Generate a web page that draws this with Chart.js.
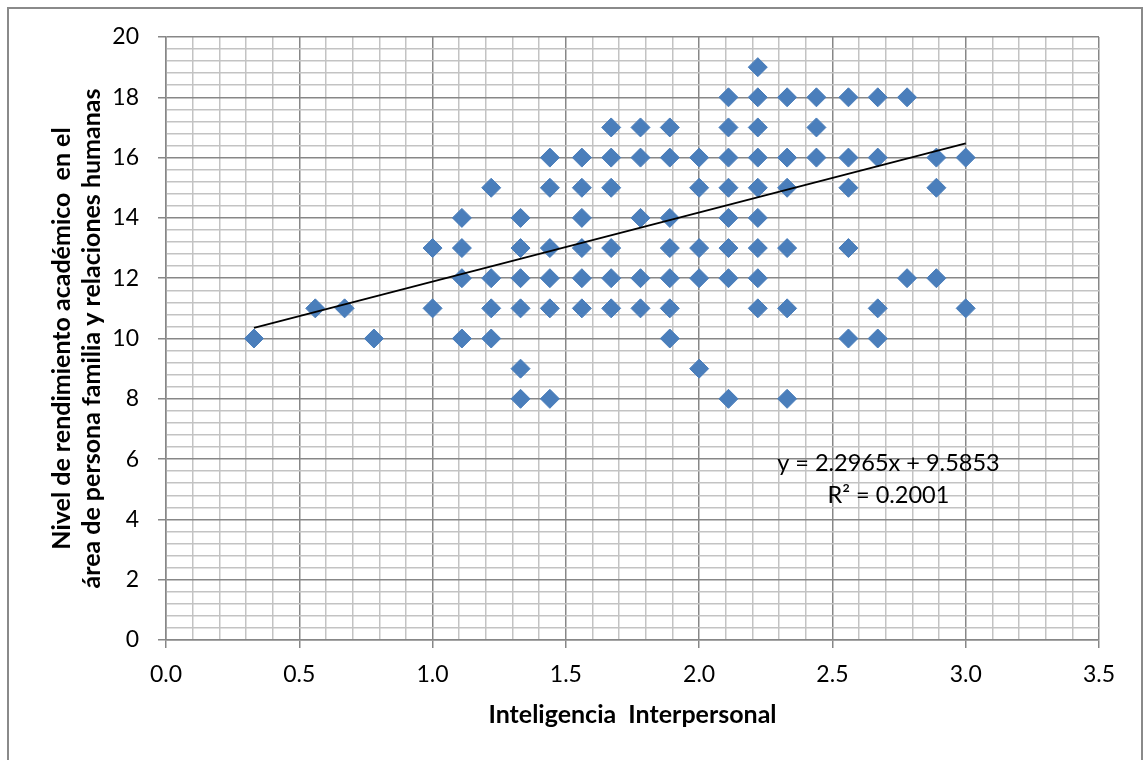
<!DOCTYPE html>
<html>
<head>
<meta charset="utf-8">
<script src="https://cdn.jsdelivr.net/npm/chart.js@4.4.1/dist/chart.umd.min.js"></script>
<style>
  html, body { margin: 0; padding: 0; background: #ffffff; }
  #wrap { width: 1146px; height: 760px; position: relative; }
</style>
</head>
<body>
<div id="wrap"><canvas id="c" width="1146" height="760"></canvas></div>
<script>
// ---- Data ----
const xLevels = [0.33, 0.56, 0.67, 0.78, 1.00, 1.11, 1.22, 1.33, 1.44, 1.56, 1.67, 1.78,
                 1.89, 2.00, 2.11, 2.22, 2.33, 2.44, 2.56, 2.67, 2.78, 2.89, 3.00];
const yByLevel = [
  [10], [11], [11], [10],
  [13, 11],
  [14, 13, 12, 10],
  [15, 12, 11, 10],
  [14, 13, 12, 11, 9, 8],
  [16, 15, 13, 12, 11, 8],
  [16, 15, 14, 13, 12, 11],
  [17, 16, 15, 13, 12, 11],
  [17, 16, 14, 12, 11],
  [17, 16, 14, 13, 12, 11, 10],
  [16, 15, 13, 12, 9],
  [18, 17, 16, 15, 14, 13, 12, 8],
  [19, 18, 17, 16, 15, 14, 13, 12, 11],
  [18, 16, 15, 13, 11, 8],
  [18, 17, 16],
  [18, 16, 15, 13, 10],
  [18, 16, 11, 10],
  [18, 12],
  [16, 15, 12],
  [16, 11]
];
const trendX = [0.33, 3.00];
const trendY = [10.35, 16.47];
const equationText = 'y = 2.2965x + 9.5853';
const r2Text = 'R² = 0.2001';
const equationPos = [2.71, 5.87];
const r2Pos = [2.71, 4.81];
const xTitle = 'Inteligencia  Interpersonal';
const yTitle = ['Nivel de rendimiento académico  en el', 'área de persona familia y relaciones humanas'];

// ---- Build datasets ----
const points = [];
xLevels.forEach((x, i) => yByLevel[i].forEach(y => points.push({ x: x, y: y })));
const trendPoints = trendX.map((x, i) => ({ x: x, y: trendY[i] }));

const MAJOR = '#878787';
const MINOR = '#c3c3c3';
const FONT = 'Lato, "Open Sans", sans-serif';
const isMult = (v, m) => Math.abs(v / m - Math.round(v / m)) < 1e-6;

const framePlugin = {
  id: 'frame',
  beforeDraw(chart) {
    const ctx = chart.ctx;
    ctx.save();
    ctx.fillStyle = '#ffffff';
    ctx.fillRect(0, 0, chart.width, chart.height);
    ctx.strokeStyle = '#8a8a8a';
    ctx.lineWidth = 2;
    ctx.strokeRect(8, 8, 1134, 770);
    ctx.restore();
  },
  afterDatasetsDraw(chart) {
    const ctx = chart.ctx;
    const xs = chart.scales.x, ys = chart.scales.y;
    ctx.save();
    ctx.fillStyle = '#000000';
    ctx.font = '23.5px ' + FONT;
    ctx.textAlign = 'center';
    ctx.textBaseline = 'middle';
    ctx.fillText(equationText, xs.getPixelForValue(equationPos[0]), ys.getPixelForValue(equationPos[1]));
    ctx.fillText(r2Text, xs.getPixelForValue(r2Pos[0]), ys.getPixelForValue(r2Pos[1]));
    ctx.restore();
  }
};

new Chart(document.getElementById('c'), {
  type: 'scatter',
  data: {
    datasets: [
      {
        type: 'line',
        data: trendPoints,
        showLine: true,
        borderColor: '#000000',
        borderWidth: 1.8,
        pointRadius: 0,
        fill: false,
        order: 0
      },
      {
        data: points,
        pointStyle: 'rectRot',
        pointRadius: 9.5,
        pointBackgroundColor: '#4A7EBB',
        pointBorderColor: '#4A7EBB',
        pointBorderWidth: 1,
        order: 1
      }
    ]
  },
  plugins: [framePlugin],
  options: {
    responsive: false,
    animation: false,
    events: [],
    layout: { padding: { left: 10, right: 47, top: 37, bottom: 20 } },
    plugins: { legend: { display: false }, tooltip: { enabled: false } },
    scales: {
      x: {
        type: 'linear',
        min: 0, max: 3.5,
        afterFit(scale) { scale.height = 100; },
        border: { color: MAJOR, width: 1.5 },
        grid: {
          color: c => isMult(c.tick.value, 0.5) ? MAJOR : MINOR,
          tickColor: c => isMult(c.tick.value, 0.5) ? MAJOR : 'rgba(0,0,0,0)',
          lineWidth: 1.5,
          tickLength: 8
        },
        ticks: {
          stepSize: 0.1,
          autoSkip: false,
          maxRotation: 0,
          padding: 13,
          color: '#000000',
          font: { family: FONT, size: 23 },
          callback: v => isMult(v, 0.5) ? v.toFixed(1) : ''
        },
        title: {
          display: true,
          text: xTitle,
          color: '#000000',
          font: { family: FONT, size: 25, weight: 'bold', lineHeight: 1.2 },
          padding: { top: 0, bottom: 10 }
        }
      },
      y: {
        type: 'linear',
        min: 0, max: 20,
        afterFit(scale) { scale.width = 156; },
        border: { color: MAJOR, width: 1.5 },
        grid: {
          color: c => isMult(c.tick.value, 2) ? MAJOR : MINOR,
          tickColor: c => isMult(c.tick.value, 2) ? MAJOR : 'rgba(0,0,0,0)',
          lineWidth: 1.5,
          tickLength: 8
        },
        ticks: {
          stepSize: 0.4,
          autoSkip: false,
          padding: 19,
          color: '#000000',
          font: { family: FONT, size: 23 },
          callback: v => isMult(v, 2) ? String(Math.round(v)) : ''
        },
        title: {
          display: true,
          text: yTitle,
          color: '#000000',
          font: { family: FONT, size: 25, weight: 'bold', lineHeight: 30 / 25 },
          padding: { top: 37, bottom: 0 }
        }
      }
    }
  }
});
</script>
</body>
</html>
